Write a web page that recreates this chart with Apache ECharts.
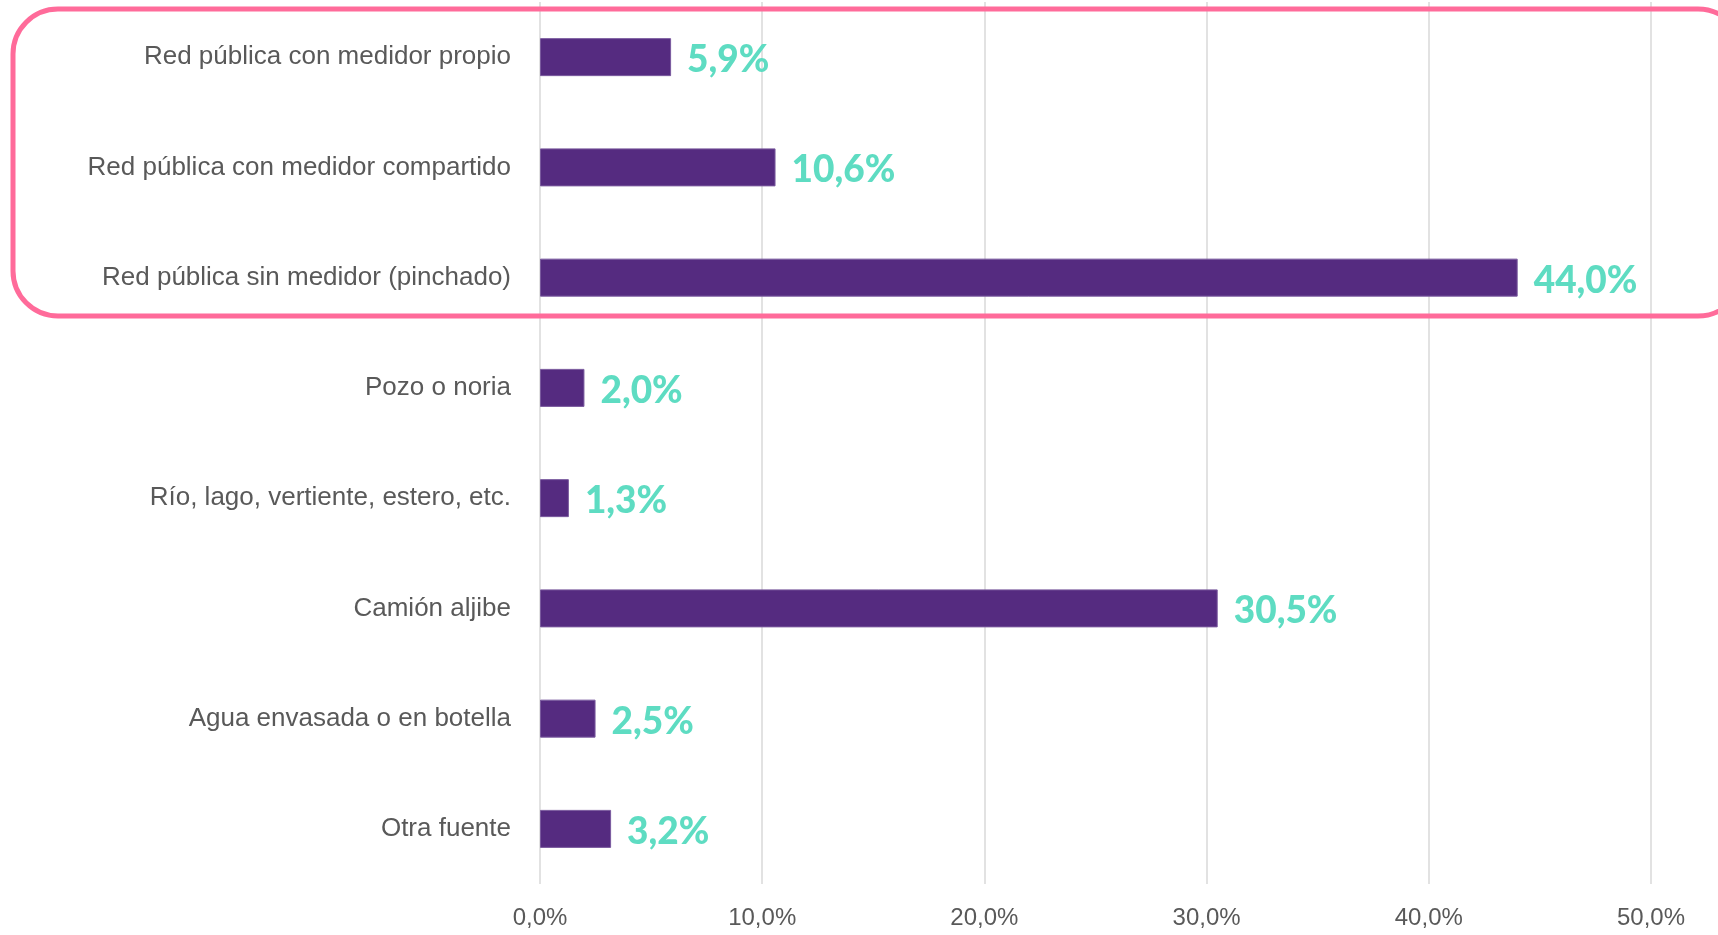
<!DOCTYPE html>
<html>
<head>
<meta charset="utf-8">
<script src="https://cdn.jsdelivr.net/npm/echarts@6/dist/echarts.min.js"></script>
<style>
  html, body { margin: 0; padding: 0; background: #fff; }
  #chart { width: 1718px; height: 935px; }
</style>
</head>
<body>
<div id="chart"></div>
<script>
const categories = [
  'Red pública con medidor propio',
  'Red pública con medidor compartido',
  'Red pública sin medidor (pinchado)',
  'Pozo o noria',
  'Río, lago, vertiente, estero, etc.',
  'Camión aljibe',
  'Agua envasada o en botella',
  'Otra fuente'
];
const values = [5.9, 10.6, 44.0, 2.0, 1.3, 30.5, 2.5, 3.2];

const fmt = v => v.toFixed(1).replace('.', ',') + '%';

const chart = echarts.init(document.getElementById('chart'));
chart.setOption({
  animation: false,
  grid: { left: 540, right: 67, top: 2, bottom: 51 },
  xAxis: {
    type: 'value',
    min: 0,
    max: 50,
    interval: 10,
    axisLine: { show: false },
    axisTick: { show: false },
    splitLine: { lineStyle: { color: '#d9d9d9', width: 1.5 } },
    axisLabel: {
      formatter: fmt,
      color: '#595959',
      fontFamily: 'Liberation Sans',
      fontSize: 24,
      margin: 22
    }
  },
  yAxis: {
    type: 'category',
    inverse: true,
    data: categories,
    axisLine: { show: false },
    axisTick: { show: false },
    axisLabel: {
      color: '#595959',
      fontFamily: 'Liberation Sans',
      fontSize: 26,
      margin: 29
    }
  },
  series: [{
    type: 'bar',
    data: values,
    barWidth: 38,
    itemStyle: { color: '#552b80', borderColor: '#7a5a9e', borderWidth: 1 },
    label: {
      show: true,
      position: 'right',
      distance: 16,
      formatter: p => fmt(p.value),
      color: '#5edcc2',
      fontFamily: 'Lato',
      fontWeight: 900,
      fontSize: 37,
      offset: [0, 3]
    }
  }],
  graphic: [{
    type: 'rect',
    shape: { x: 13, y: 9, width: 1730, height: 307, r: 45 },
    style: { fill: 'none', stroke: '#ff6b9a', lineWidth: 5 },
    z: 100
  }]
});
</script>
</body>
</html>
